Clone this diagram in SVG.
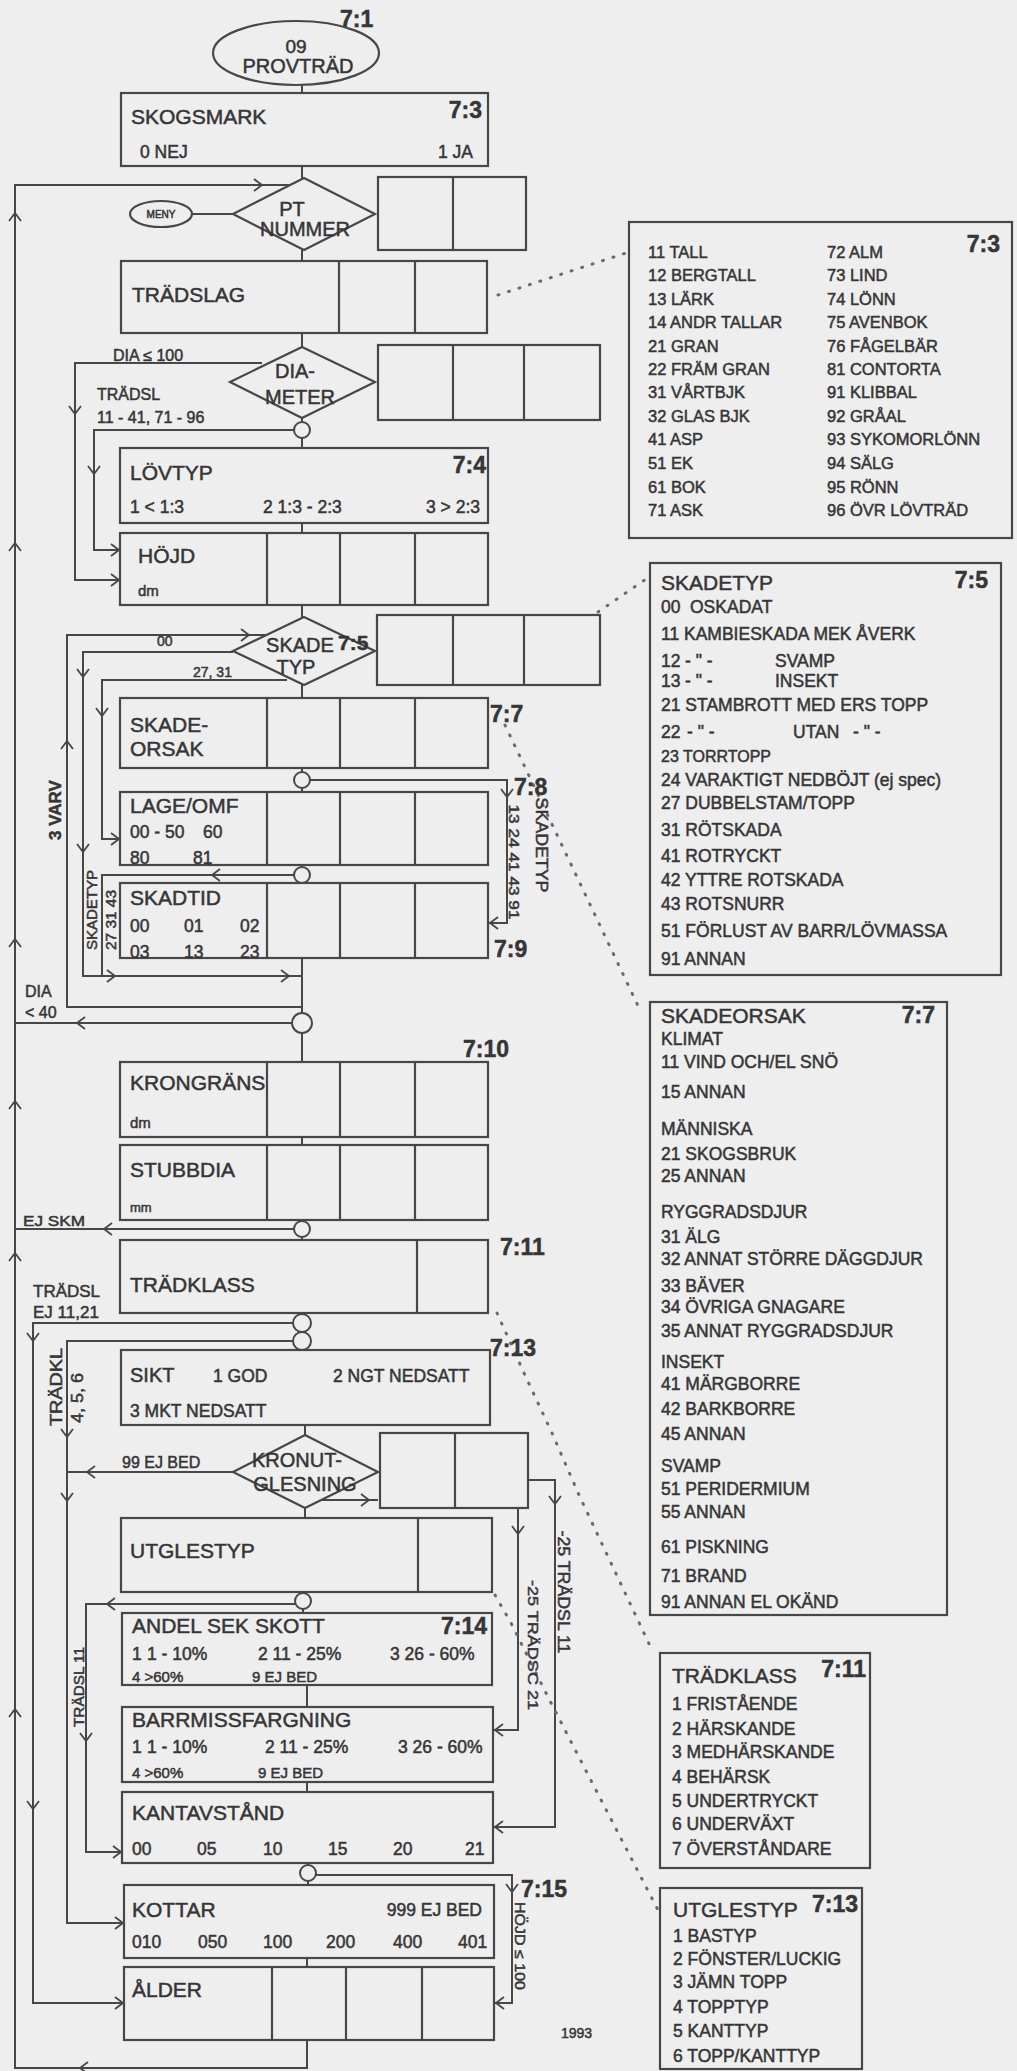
<svg xmlns="http://www.w3.org/2000/svg" xmlns:xlink="http://www.w3.org/1999/xlink" width="1017" height="2071" viewBox="0 0 1017 2071">
<style>
text{font-family:"Liberation Sans",Arial,Helvetica,sans-serif;fill:#363636;stroke:#363636;stroke-width:0.5}
.b{fill:none;stroke:#474747;stroke-width:2.2}
.c{fill:#eeeeee;stroke:#474747;stroke-width:2}
.ln{fill:none;stroke:#474747;stroke-width:2}
.ar{fill:none;stroke:#474747;stroke-width:1.8}
.dot{fill:none;stroke:#6a6a6a;stroke-width:3;stroke-dasharray:1 10;stroke-linecap:round}
.h{font-size:21px}
.s{font-size:17.5px}
.m{font-size:16.5px}
.x{font-size:15px}
.k{font-size:23px;font-weight:bold}
.mid{text-anchor:middle}
.end{text-anchor:end}
</style>
<defs>
<path id="a" class="ar" d="M-8,-6 L0,0 L-8,6"/>
</defs>
<rect x="0" y="0" width="1017" height="2071" fill="#eeeeee"/>

<g id="connectors">
<path class="ln" d="M302 85V93M302 166V178M302 250V261M302 333V347M302 418V422M302 438V448M302 523V533M302 605V617M302 685V698M302 768V772M302 788V792M302 865V867M302 958V1013M302 1033V1062M302 1137V1145M302 1220V1221M302 1237V1240M302 1313V1314M305 1425V1435M305 1508V1518M303 1592V1593M303 1609V1613M307 1685V1707M307 1782V1792M308 1863V1865M308 1881V1885M307 1958V1967"/>
<path class="ln" d="M307 2040V2068H15V185H290"/>
<path class="ln" d="M192 214H233"/>
<path class="ln" d="M262 363H75V580H120"/>
<path class="ln" d="M294 430H94V550H120"/>
<path class="ln" d="M302 1007H67V635H266"/>
<path class="ln" d="M233 652H83V976H302"/>
<path class="ln" d="M287 680H102V839H120"/>
<path class="ln" d="M294 875H102V976"/>
<path class="ln" d="M310 780H507V923H488"/>
<path class="ln" d="M292 1023H15"/>
<path class="ln" d="M294 1229H15"/>
<path class="ln" d="M293 1323H33V2003H124"/>
<path class="ln" d="M293 1341H67V1923H124"/>
<path class="ln" d="M233 1472H67"/>
<path class="ln" d="M322 1500H378"/>
<path class="ln" d="M518 1508V1730H493"/>
<path class="ln" d="M528 1480H555V1827H493"/>
<path class="ln" d="M295 1604H86V1852H122"/>
<path class="ln" d="M316 1875H512V2003H494"/>
<g>
<use href="#a" transform="translate(262,185)"/>
<use href="#a" transform="translate(15,213) rotate(-90)"/>
<use href="#a" transform="translate(15,543) rotate(-90)"/>
<use href="#a" transform="translate(15,939) rotate(-90)"/>
<use href="#a" transform="translate(15,1101) rotate(-90)"/>
<use href="#a" transform="translate(15,1253) rotate(-90)"/>
<use href="#a" transform="translate(15,1709) rotate(-90)"/>
<use href="#a" transform="translate(75,414) rotate(90)"/>
<use href="#a" transform="translate(94,474) rotate(90)"/>
<use href="#a" transform="translate(119,550)"/>
<use href="#a" transform="translate(119,580)"/>
<use href="#a" transform="translate(249,635)"/>
<use href="#a" transform="translate(67,741) rotate(-90)"/>
<use href="#a" transform="translate(83,677) rotate(90)"/>
<use href="#a" transform="translate(83,852) rotate(90)"/>
<use href="#a" transform="translate(102,716) rotate(90)"/>
<use href="#a" transform="translate(119,839)"/>
<use href="#a" transform="translate(115,976)"/>
<use href="#a" transform="translate(289,976)"/>
<use href="#a" transform="translate(212,875) rotate(180)"/>
<use href="#a" transform="translate(507,797) rotate(90)"/>
<use href="#a" transform="translate(490,923) rotate(180)"/>
<use href="#a" transform="translate(77,1023) rotate(180)"/>
<use href="#a" transform="translate(104,1229) rotate(180)"/>
<use href="#a" transform="translate(33,1341) rotate(90)"/>
<use href="#a" transform="translate(33,1809) rotate(90)"/>
<use href="#a" transform="translate(123,2003)"/>
<use href="#a" transform="translate(67,1437) rotate(90)"/>
<use href="#a" transform="translate(67,1501) rotate(90)"/>
<use href="#a" transform="translate(123,1923)"/>
<use href="#a" transform="translate(87,1472) rotate(180)"/>
<use href="#a" transform="translate(369,1500)"/>
<use href="#a" transform="translate(518,1534) rotate(90)"/>
<use href="#a" transform="translate(495,1730) rotate(180)"/>
<use href="#a" transform="translate(555,1504) rotate(90)"/>
<use href="#a" transform="translate(495,1827) rotate(180)"/>
<use href="#a" transform="translate(107,1604) rotate(180)"/>
<use href="#a" transform="translate(86,1741) rotate(90)"/>
<use href="#a" transform="translate(121,1852)"/>
<use href="#a" transform="translate(512,1892) rotate(90)"/>
<use href="#a" transform="translate(496,2003) rotate(180)"/>
<use href="#a" transform="translate(80,2068) rotate(180)"/>
</g>
<path class="dot" d="M498 295L629 252"/>
<path class="dot" d="M598 612L649 577"/>
<path class="dot" d="M505 725L640 1010"/>
<path class="dot" d="M497 1313L524 1373L552 1433L579 1495L651 1648"/>
<path class="dot" d="M495 1595L511 1623L548 1697L583 1765L658 1910"/>
<text class="k" x="340" y="27">7:1</text>
<text class="x" x="113" y="361" style="font-size:16px">DIA ≤ 100</text>
<text class="x" x="97" y="400" style="font-size:16px">TRÄDSL</text>
<text class="x" x="97" y="423" style="font-size:16px">11 - 41, 71 - 96</text>
<text class="x" x="157" y="646" style="font-size:14px">00</text>
<text class="x" x="193" y="677" style="font-size:14px">27, 31</text>
<text class="x" style="font-size:17px;font-weight:bold" text-anchor="middle" transform="translate(61,810) rotate(-90)">3 VARV</text>
<text class="x" style="font-size:14px" text-anchor="middle" textLength="80" lengthAdjust="spacingAndGlyphs" transform="translate(97,910) rotate(-90)">SKADETYP</text>
<text class="x" style="font-size:14px" text-anchor="middle" textLength="60" lengthAdjust="spacingAndGlyphs" transform="translate(116,920) rotate(-90)">27 31 43</text>
<text class="k" x="490" y="722">7:7</text>
<text class="k" x="514" y="795">7:8</text>
<text class="x" style="font-size:14px" text-anchor="middle" textLength="115" lengthAdjust="spacingAndGlyphs" transform="translate(509,862) rotate(90)">13 24 41 43 91</text>
<text class="x" style="font-size:16px" text-anchor="middle" textLength="95" lengthAdjust="spacingAndGlyphs" transform="translate(536,845) rotate(90)">SKADETYP</text>
<text class="k" x="494" y="957">7:9</text>
<text class="x" x="25" y="997" style="font-size:16px">DIA</text>
<text class="x" x="25" y="1018" style="font-size:16px">&lt; 40</text>
<text class="k" x="463" y="1057">7:10</text>
<text class="x" x="23" y="1226" style="font-size:15px" textLength="62" lengthAdjust="spacingAndGlyphs">EJ SKM</text>
<text class="k" x="500" y="1255">7:11</text>
<text class="x" x="33" y="1297" style="font-size:17px">TRÄDSL</text>
<text class="x" x="33" y="1318" style="font-size:17px">EJ 11,21</text>
<text class="k" x="490" y="1356">7:13</text>
<text class="x" style="font-size:16px" text-anchor="middle" textLength="78" lengthAdjust="spacingAndGlyphs" transform="translate(62,1387) rotate(-90)">TRÄDKL</text>
<text class="x" style="font-size:16px" text-anchor="middle" textLength="50" lengthAdjust="spacingAndGlyphs" transform="translate(83,1398) rotate(-90)">4, 5, 6</text>
<text class="x" x="122" y="1468" style="font-size:16px">99 EJ BED</text>
<text class="x" style="font-size:16px" text-anchor="middle" textLength="123" lengthAdjust="spacingAndGlyphs" transform="translate(558,1592) rotate(90)">-25 TRÄDSL 11</text>
<text class="x" style="font-size:15px" text-anchor="middle" textLength="130" lengthAdjust="spacingAndGlyphs" transform="translate(528,1645) rotate(90)">-25 TRÄDSC 21</text>
<text class="x" style="font-size:14px" text-anchor="middle" textLength="80" lengthAdjust="spacingAndGlyphs" transform="translate(84,1687) rotate(-90)">TRÄDSL 11</text>
<text class="k" x="521" y="1897">7:15</text>
<text class="x" style="font-size:14px" text-anchor="middle" textLength="88" lengthAdjust="spacingAndGlyphs" transform="translate(515,1946) rotate(90)">HÖJD ≤ 100</text>
<text class="x" x="561" y="2038" style="font-size:14px">1993</text>
</g>

<g id="n-provtrad">
<ellipse class="b" cx="296" cy="53" rx="83" ry="32"/>
<text class="mid" x="296" y="53" style="font-size:19px">09</text>
<text class="mid" x="298" y="73" style="font-size:20px">PROVTRÄD</text>
</g>

<g id="n-skogsmark">
<rect class="b" x="121" y="93" width="367" height="73"/>
<text class="h" x="131" y="124">SKOGSMARK</text>
<text class="k end" x="482" y="118">7:3</text>
<text class="s" x="140" y="158">0 NEJ</text>
<text class="s end" x="473" y="158">1 JA</text>
</g>

<g id="n-meny">
<ellipse class="b" cx="161" cy="214" rx="31" ry="13"/>
<text class="mid" x="161" y="218" style="font-size:10px">MENY</text>
</g>

<g id="n-ptnummer">
<polygon class="b" points="304,178 375,214 304,250 233,214"/>
<text class="mid" x="292" y="216" style="font-size:20px">PT</text>
<text class="mid" x="305" y="236" style="font-size:20px">NUMMER</text>
<rect class="b" x="378" y="177" width="148" height="73"/>
<path class="b" d="M453 177V250"/>
</g>

<g id="n-tradslag">
<rect class="b" x="121" y="261" width="366" height="72"/>
<path class="b" d="M339 261V333M415 261V333"/>
<text class="h" x="132" y="302">TRÄDSLAG</text>
</g>

<g id="n-diameter">
<polygon class="b" points="302,347 375,382 302,418 230,382"/>
<text class="mid" x="295" y="378" style="font-size:20px">DIA-</text>
<text class="mid" x="300" y="404" style="font-size:20px">METER</text>
<rect class="b" x="378" y="345" width="222" height="75"/>
<path class="b" d="M453 345V420M524 345V420"/>
<circle class="c" cx="302" cy="430" r="8"/>
</g>

<g id="n-lovtyp">
<rect class="b" x="120" y="448" width="368" height="75"/>
<text class="h" x="130" y="480">LÖVTYP</text>
<text class="k end" x="486" y="473">7:4</text>
<text class="s" x="130" y="513">1 &lt; 1:3</text>
<text class="s" x="263" y="513">2 1:3 - 2:3</text>
<text class="s end" x="480" y="513">3 &gt; 2:3</text>
</g>

<g id="n-hojd">
<rect class="b" x="120" y="533" width="368" height="72"/>
<path class="b" d="M267 533V605M340 533V605M415 533V605"/>
<text class="h" x="138" y="563">HÖJD</text>
<text class="x" x="138" y="596">dm</text>
</g>

<g id="n-skadetyp">
<polygon class="b" points="304,617 375,651 304,685 233,651"/>
<text class="mid" x="300" y="652" style="font-size:20px">SKADE</text>
<text class="mid" x="296" y="674" style="font-size:20px">TYP</text>
<text x="338" y="650" style="font-size:21px;font-weight:bold">7:5</text>
<rect class="b" x="377" y="615" width="223" height="70"/>
<path class="b" d="M453 615V685M524 615V685"/>
</g>

<g id="n-skadeorsak">
<rect class="b" x="120" y="698" width="368" height="70"/>
<path class="b" d="M267 698V768M340 698V768M415 698V768"/>
<text class="h" x="130" y="732">SKADE-</text>
<text class="h" x="130" y="756">ORSAK</text>
<circle class="c" cx="302" cy="780" r="8"/>
</g>

<g id="n-lage">
<rect class="b" x="120" y="792" width="368" height="73"/>
<path class="b" d="M267 792V865M340 792V865M415 792V865"/>
<text class="h" x="130" y="813">LAGE/OMF</text>
<text class="s" x="130" y="838">00 - 50</text>
<text class="s" x="203" y="838">60</text>
<text class="s" x="130" y="864">80</text>
<text class="s" x="193" y="864">81</text>
<circle class="c" cx="302" cy="875" r="8"/>
</g>

<g id="n-skadtid">
<rect class="b" x="120" y="883" width="368" height="75"/>
<path class="b" d="M267 883V958M340 883V958M415 883V958"/>
<text class="h" x="130" y="905">SKADTID</text>
<text class="s" x="130" y="932">00</text>
<text class="s" x="184" y="932">01</text>
<text class="s" x="240" y="932">02</text>
<text class="s" x="130" y="958">03</text>
<text class="s" x="184" y="958">13</text>
<text class="s" x="240" y="958">23</text>
<circle class="c" cx="302" cy="1023" r="10"/>
</g>

<g id="n-krongrans">
<rect class="b" x="120" y="1062" width="368" height="75"/>
<path class="b" d="M267 1062V1137M340 1062V1137M415 1062V1137"/>
<text class="h" x="130" y="1090">KRONGRÄNS</text>
<text class="x" x="130" y="1128">dm</text>
</g>

<g id="n-stubbdia">
<rect class="b" x="120" y="1145" width="368" height="75"/>
<path class="b" d="M267 1145V1220M340 1145V1220M415 1145V1220"/>
<text class="h" x="130" y="1177">STUBBDIA</text>
<text class="x" x="130" y="1212" style="font-size:13px">mm</text>
<circle class="c" cx="302" cy="1229" r="8"/>
</g>

<g id="n-tradklass">
<rect class="b" x="120" y="1240" width="368" height="73"/>
<path class="b" d="M417 1240V1313"/>
<text class="h" x="130" y="1292">TRÄDKLASS</text>
<circle class="c" cx="302" cy="1323" r="9"/>
<circle class="c" cx="302" cy="1341" r="9"/>
</g>

<g id="n-sikt">
<rect class="b" x="121" y="1350" width="369" height="75"/>
<text x="130" y="1382" style="font-size:20px">SIKT</text>
<text class="s" x="213" y="1382">1 GOD</text>
<text class="s" x="333" y="1382">2 NGT NEDSATT</text>
<text class="s" x="130" y="1417">3 MKT NEDSATT</text>
</g>

<g id="n-kronut">
<polygon class="b" points="305,1435 378,1472 305,1508 233,1472"/>
<text class="mid" x="297" y="1467" style="font-size:20px">KRONUT-</text>
<text class="mid" x="305" y="1491" style="font-size:20px">GLESNING</text>
<rect class="b" x="380" y="1433" width="148" height="75"/>
<path class="b" d="M455 1433V1508"/>
</g>

<g id="n-utglestyp">
<rect class="b" x="121" y="1518" width="371" height="74"/>
<path class="b" d="M418 1518V1592"/>
<text class="h" x="130" y="1558">UTGLESTYP</text>
<circle class="c" cx="303" cy="1601" r="8"/>
</g>

<g id="n-andel">
<rect class="b" x="122" y="1613" width="370" height="72"/>
<text class="h" x="132" y="1633">ANDEL SEK SKOTT</text>
<text class="k end" x="487" y="1634">7:14</text>
<text class="s" x="132" y="1660">1</text>
<text class="s" x="147" y="1660">1 - 10%</text>
<text class="s" x="258" y="1660">2 11 - 25%</text>
<text class="s" x="390" y="1660">3 26 - 60%</text>
<text class="x" x="132" y="1682">4 &gt;60%</text>
<text class="x" x="252" y="1682">9 EJ BED</text>
</g>

<g id="n-barrmiss">
<rect class="b" x="122" y="1707" width="371" height="75"/>
<text class="h" x="132" y="1727">BARRMISSFARGNING</text>
<text class="s" x="132" y="1753">1</text>
<text class="s" x="147" y="1753">1 - 10%</text>
<text class="s" x="265" y="1753">2 11 - 25%</text>
<text class="s" x="398" y="1753">3 26 - 60%</text>
<text class="x" x="132" y="1778">4 &gt;60%</text>
<text class="x" x="258" y="1778">9 EJ BED</text>
</g>

<g id="n-kantavstand">
<rect class="b" x="122" y="1792" width="371" height="71"/>
<text class="h" x="132" y="1820">KANTAVSTÅND</text>
<text class="s" x="132" y="1855">00</text>
<text class="s" x="197" y="1855">05</text>
<text class="s" x="263" y="1855">10</text>
<text class="s" x="328" y="1855">15</text>
<text class="s" x="393" y="1855">20</text>
<text class="s" x="465" y="1855">21</text>
<circle class="c" cx="308" cy="1873" r="8"/>
</g>

<g id="n-kottar">
<rect class="b" x="124" y="1885" width="370" height="73"/>
<text class="h" x="132" y="1917">KOTTAR</text>
<text class="s end" x="482" y="1916">999 EJ BED</text>
<text class="s" x="132" y="1948">010</text>
<text class="s" x="198" y="1948">050</text>
<text class="s" x="263" y="1948">100</text>
<text class="s" x="326" y="1948">200</text>
<text class="s" x="393" y="1948">400</text>
<text class="s" x="458" y="1948">401</text>
</g>

<g id="n-alder">
<rect class="b" x="124" y="1967" width="370" height="73"/>
<path class="b" d="M272 1967V2040M346 1967V2040M422 1967V2040"/>
<text class="h" x="132" y="1997">ÅLDER</text>
</g>

<g id="t-tradslag">
<rect class="b" x="629" y="222" width="383" height="316"/>
<text class="k end" x="1000" y="252">7:3</text>
<g class="m">
<text x="648" y="258">11 TALL</text>
<text x="648" y="281">12 BERGTALL</text>
<text x="648" y="305">13 LÄRK</text>
<text x="648" y="328">14 ANDR TALLAR</text>
<text x="648" y="352">21 GRAN</text>
<text x="648" y="375">22 FRÄM GRAN</text>
<text x="648" y="398">31 VÅRTBJK</text>
<text x="648" y="422">32 GLAS BJK</text>
<text x="648" y="445">41 ASP</text>
<text x="648" y="469">51 EK</text>
<text x="648" y="493">61 BOK</text>
<text x="648" y="516">71 ASK</text>
<text x="827" y="258">72 ALM</text>
<text x="827" y="281">73 LIND</text>
<text x="827" y="305">74 LÖNN</text>
<text x="827" y="328">75 AVENBOK</text>
<text x="827" y="352">76 FÅGELBÄR</text>
<text x="827" y="375">81 CONTORTA</text>
<text x="827" y="398">91 KLIBBAL</text>
<text x="827" y="422">92 GRÅAL</text>
<text x="827" y="445">93 SYKOMORLÖNN</text>
<text x="827" y="469">94 SÄLG</text>
<text x="827" y="493">95 RÖNN</text>
<text x="827" y="516">96 ÖVR LÖVTRÄD</text>
</g>
</g>

<g id="t-skadetyp">
<rect class="b" x="650" y="563" width="351" height="412"/>
<text class="h" x="661" y="590">SKADETYP</text>
<text class="k end" x="988" y="588">7:5</text>
<g class="s">
<text x="661" y="613">00</text>
<text x="690" y="613">OSKADAT</text>
<text x="661" y="640">11 KAMBIESKADA MEK ÅVERK</text>
<text x="661" y="667">12</text>
<text x="685" y="667">- " -</text>
<text x="775" y="667">SVAMP</text>
<text x="661" y="687">13</text>
<text x="685" y="687">- " -</text>
<text x="775" y="687">INSEKT</text>
<text x="661" y="711">21 STAMBROTT MED ERS TOPP</text>
<text x="661" y="738">22</text>
<text x="687" y="738">- " -</text>
<text x="793" y="738">UTAN</text>
<text x="853" y="738">- " -</text>
<text x="661" y="762" style="font-size:16px">23 TORRTOPP</text>
<text x="661" y="786">24 VARAKTIGT NEDBÖJT (ej spec)</text>
<text x="661" y="809">27 DUBBELSTAM/TOPP</text>
<text x="661" y="836">31 RÖTSKADA</text>
<text x="661" y="862">41 ROTRYCKT</text>
<text x="661" y="886">42 YTTRE ROTSKADA</text>
<text x="661" y="910">43 ROTSNURR</text>
<text x="661" y="937">51 FÖRLUST AV BARR/LÖVMASSA</text>
<text x="661" y="965">91 ANNAN</text>
</g>
</g>

<g id="t-skadeorsak">
<rect class="b" x="650" y="1002" width="297" height="613"/>
<text class="h" x="661" y="1023">SKADEORSAK</text>
<text class="k end" x="935" y="1023">7:7</text>
<g class="s">
<text x="661" y="1045">KLIMAT</text>
<text x="661" y="1068">11 VIND OCH/EL SNÖ</text>
<text x="661" y="1098">15 ANNAN</text>
<text x="661" y="1135">MÄNNISKA</text>
<text x="661" y="1160">21 SKOGSBRUK</text>
<text x="661" y="1182">25 ANNAN</text>
<text x="661" y="1218">RYGGRADSDJUR</text>
<text x="661" y="1243">31 ÄLG</text>
<text x="661" y="1265">32 ANNAT STÖRRE DÄGGDJUR</text>
<text x="661" y="1292">33 BÄVER</text>
<text x="661" y="1313">34 ÖVRIGA GNAGARE</text>
<text x="661" y="1337">35 ANNAT RYGGRADSDJUR</text>
<text x="661" y="1368">INSEKT</text>
<text x="661" y="1390">41 MÄRGBORRE</text>
<text x="661" y="1415">42 BARKBORRE</text>
<text x="661" y="1440">45 ANNAN</text>
<text x="661" y="1472">SVAMP</text>
<text x="661" y="1495">51 PERIDERMIUM</text>
<text x="661" y="1518">55 ANNAN</text>
<text x="661" y="1553">61 PISKNING</text>
<text x="661" y="1582">71 BRAND</text>
<text x="661" y="1608">91 ANNAN EL OKÄND</text>
</g>
</g>

<g id="t-tradklass">
<rect class="b" x="660" y="1653" width="210" height="215"/>
<text class="h" x="672" y="1683">TRÄDKLASS</text>
<text class="k end" x="866" y="1677">7:11</text>
<g class="s">
<text x="672" y="1710">1 FRISTÅENDE</text>
<text x="672" y="1735">2 HÄRSKANDE</text>
<text x="672" y="1758">3 MEDHÄRSKANDE</text>
<text x="672" y="1783">4 BEHÄRSK</text>
<text x="672" y="1807">5 UNDERTRYCKT</text>
<text x="672" y="1830">6 UNDERVÄXT</text>
<text x="672" y="1855">7 ÖVERSTÅNDARE</text>
</g>
</g>

<g id="t-utglestyp">
<rect class="b" x="660" y="1888" width="202" height="181"/>
<text class="h" x="673" y="1917">UTGLESTYP</text>
<text class="k end" x="858" y="1912">7:13</text>
<g class="s">
<text x="673" y="1942">1 BASTYP</text>
<text x="673" y="1965">2 FÖNSTER/LUCKIG</text>
<text x="673" y="1988">3 JÄMN TOPP</text>
<text x="673" y="2013">4 TOPPTYP</text>
<text x="673" y="2037">5 KANTTYP</text>
<text x="673" y="2062">6 TOPP/KANTTYP</text>
</g>
</g>
</svg>
